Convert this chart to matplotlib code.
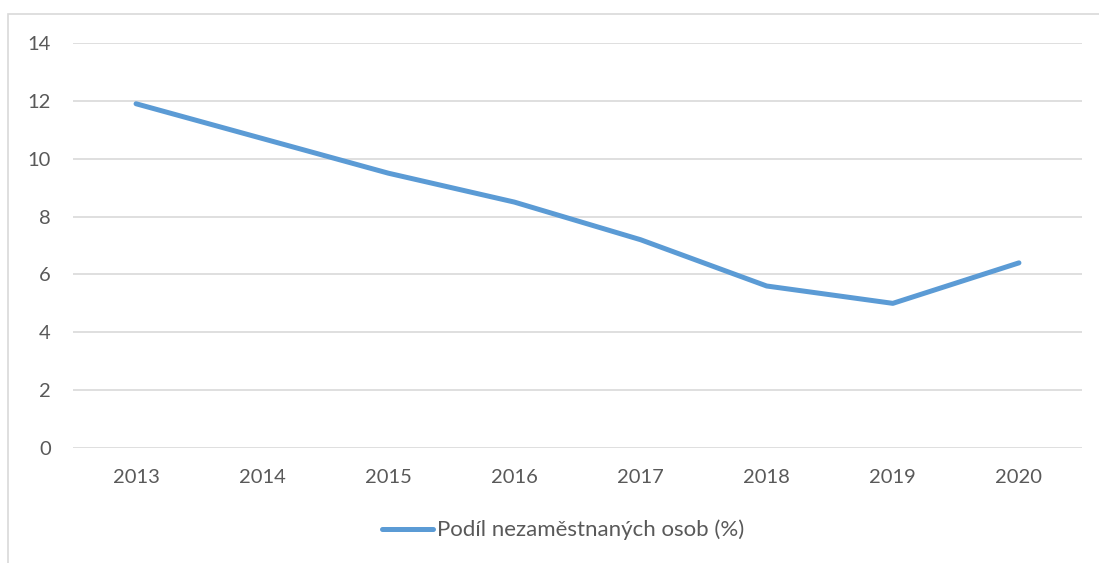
import matplotlib
matplotlib.use('Agg')
import matplotlib.pyplot as plt
from matplotlib.patches import Rectangle

years = ['2013', '2014', '2015', '2016', '2017', '2018', '2019', '2020']
share = [11.9, 10.7, 9.5, 8.5, 7.2, 5.6, 5.0, 6.4]
series_label = 'Podíl nezaměstnaných osob (%)'

plt.rcParams['font.family'] = ['Lato', 'DejaVu Sans']

fig = plt.figure(figsize=(10.99, 5.63), dpi=100)
ax = fig.add_axes([73 / 1099, 1 - 448 / 563, 1009 / 1099, 405 / 563])

# light outer chart frame (cropped at right/bottom)
fig.patches.append(Rectangle((8 / 1099, -0.1), 1.2, 1 - 14 / 563 + 0.1,
                             transform=fig.transFigure, fill=False,
                             edgecolor='#D9D9D9', linewidth=1.2))

x = range(len(years))
ax.plot(x, share, color='#5B9BD5', linewidth=3.6, solid_capstyle='round',
        label=series_label)

ax.set_xlim(-0.5, len(years) - 0.5)
ax.set_ylim(0, 14)
ax.set_yticks(range(0, 15, 2))
ax.set_xticks(list(x))
ax.set_xticklabels(years)
ax.grid(axis='y', color='#D9D9D9', linewidth=1.2)
ax.set_axisbelow(True)
for s in ax.spines.values():
    s.set_visible(False)
ax.tick_params(length=0, labelsize=14.5, labelcolor='#595959')
ax.tick_params(axis='y', pad=16)
ax.tick_params(axis='x', pad=15)

leg = fig.legend(loc='center', bbox_to_anchor=(563 / 1099, 1 - 530 / 563),
                 frameon=False, fontsize=16, handlelength=2.3, handletextpad=0.2,
                 labelcolor='#595959')

fig.savefig('out.png', dpi=100)
